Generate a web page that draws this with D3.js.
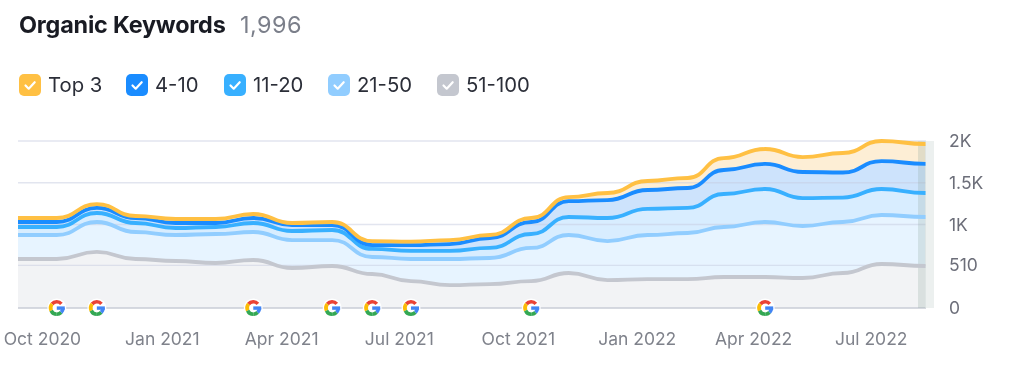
<!DOCTYPE html>
<html><head><meta charset="utf-8">
<script src="https://cdnjs.cloudflare.com/ajax/libs/d3/7.8.5/d3.min.js"></script>
<style>html,body{margin:0;padding:0;background:#fff}svg{display:block;font-family:Inter,"Noto Sans",sans-serif;filter:blur(.4px)}</style>
</head><body><svg id="c" width="1024" height="368"></svg>
<script>
const title = "Organic Keywords";
const total = "1,996";
const dates = ["2020-09-09","2020-10-09","2020-11-09","2020-12-09","2021-01-09","2021-02-09","2021-03-10","2021-04-09","2021-05-10","2021-06-10","2021-07-10","2021-08-09","2021-09-09","2021-10-11","2021-11-09","2021-12-09","2022-01-09","2022-02-09","2022-03-09","2022-04-10","2022-05-09","2022-06-09","2022-07-09","2022-08-12"];
const top3   = [1078,1078,1245,1102,1066,1066,1126,1018,1030,802,796,814,874,1078,1329,1377,1521,1557,1796,1904,1808,1856,2000,1964];
const pos4   = [1030,1030,1198,1078,1018,1018,1078,994,994,754,754,766,838,1030,1281,1293,1413,1437,1653,1725,1629,1623,1760,1725];
const pos11  = [970,970,1138,1018,958,970,1018,922,934,707,683,683,719,886,1090,1078,1186,1198,1365,1425,1317,1323,1425,1377];
const pos21  = [874,874,1030,910,874,886,910,814,814,611,587,587,599,719,874,802,874,898,970,1030,982,1030,1114,1090];
const pos51  = [587,587,671,587,563,539,575,479,503,407,323,275,287,323,419,335,347,347,371,371,359,419,527,503];
const seriesNames = ["Top 3","4-10","11-20","21-50","51-100"];
const seriesColors = ["#ffc043","#1a8cff","#38b0ff","#91cdff","#c4c7cf"];
const bandColors = ["#fdeed5","#cde3fc","#d8edff","#e7f4ff","#f2f3f5"];
const yTicks = [0,510,1000,1500,2000];
const yTickLabels = ["0","510","1K","1.5K","2K"];
const xTicks = ["2020-10-01","2021-01-01","2021-04-01","2021-07-01","2021-10-01","2022-01-01","2022-04-01","2022-07-01"];
const xTickLabels = ["Oct 2020","Jan 2021","Apr 2021","Jul 2021","Oct 2021","Jan 2022","Apr 2022","Jul 2022"];
const googleUpdates = ["2020-10-09","2020-11-09","2021-03-10","2021-05-10","2021-06-10","2021-07-10","2021-10-11","2022-04-10"];

const P = d3.utcParse("%Y-%m-%d");
const svg = d3.select("#c");
const x = d3.scaleUtc().domain([P(dates[0]),P(dates[dates.length-1])]).range([18,925.5]);
const y = d3.scaleLinear().domain([0,2000]).range([308,141]);
const D = dates.map(P);
const series = [top3,pos4,pos11,pos21,pos51];

svg.append("text").attr("x",19).attr("y",33).attr("font-size",23.4).attr("font-weight",700).attr("fill","#191b23").attr("letter-spacing",-0.2).text(title);
svg.append("text").attr("x",240).attr("y",33).attr("font-size",23.4).attr("letter-spacing",.5).attr("fill","#7b7f8a").text(total);

const legendBoxX=[19,126,224,328,437];
seriesNames.forEach((n,i)=>{
  const g=svg.append("g").attr("transform",`translate(${legendBoxX[i]},74)`);
  g.append("rect").attr("width",22).attr("height",22).attr("rx",5).attr("fill",seriesColors[i]);
  g.append("path").attr("d","M6.5 11.5l3.2 3.2 6-6.5").attr("fill","none").attr("stroke","#fff").attr("stroke-width",2.2).attr("stroke-linecap","round").attr("stroke-linejoin","round");
  svg.append("text").attr("x",legendBoxX[i]+29).attr("y",92).attr("font-size",20.3).attr("fill","#2b2e38").text(n);
});

const curve=d3.curveBumpX;
series.forEach((s,i)=>{
  const lower = series[i+1];
  const area=d3.area().x((d,j)=>x(D[j])).y1(d=>y(d)).y0((d,j)=>y(lower?lower[j]:0)).curve(curve);
  svg.append("path").datum(s).attr("d",area).attr("fill",bandColors[i]);
});

yTicks.forEach(t=>{
  svg.append("line").attr("x1",18).attr("x2",926).attr("y1",y(t)).attr("y2",y(t)).attr("stroke",t===0?"#c9ccd6":"#c5cbe0").attr("stroke-opacity",t===0?1:.5).attr("stroke-width",t===0?1.5:1.4);
});

svg.append("rect").attr("x",918).attr("y",141).attr("width",8).attr("height",167).attr("fill","#8fa6a0").attr("opacity",.25);
svg.append("rect").attr("x",925).attr("y",141).attr("width",9).attr("height",167).attr("fill","#dfe6e4").attr("opacity",.6);

const line=d3.line().x((d,j)=>x(D[j])).y(d=>y(d)).curve(curve);
[4,3,2,1,0].forEach(i=>{
  svg.append("path").datum(series[i]).attr("d",line).attr("fill","none").attr("stroke",seriesColors[i]).attr("stroke-width",3.8);
});

yTicks.forEach((t,i)=>{
  svg.append("text").attr("x",949).attr("y",y(t)+6).attr("font-size",17.5).attr("fill","#6c6e79").text(yTickLabels[i]);
});
xTicks.forEach((t,i)=>{
  const nudge = i===0?-4:(i===1?-3:0);
  svg.append("text").attr("x",x(P(t))+nudge).attr("y",345).attr("text-anchor","middle").attr("font-size",17.5).attr("fill","#7f828b").text(xTickLabels[i]);
});

function gIcon(cx,cy){
  const g=svg.append("g").attr("transform",`translate(${cx},${cy})`);
  g.append("circle").attr("r",9.5).attr("fill","#fff");
  const arc=d3.arc().innerRadius(4.4).outerRadius(8);
  const deg=Math.PI/180;
  g.append("path").attr("d",arc({startAngle:-50*deg,endAngle:48*deg})).attr("fill","#ea4335");
  g.append("path").attr("d",arc({startAngle:-115*deg,endAngle:-50*deg})).attr("fill","#fbbc05");
  g.append("path").attr("d",arc({startAngle:-180*deg,endAngle:-115*deg})).attr("fill","#34a853");
  g.append("path").attr("d",arc({startAngle:135*deg,endAngle:180*deg})).attr("fill","#34a853");
  g.append("path").attr("d",arc({startAngle:90*deg,endAngle:135*deg})).attr("fill","#4285f4");
  g.append("rect").attr("x",0).attr("y",-1.6).attr("width",8).attr("height",3.4).attr("fill","#4285f4");
}
googleUpdates.forEach(d=>gIcon(x(P(d)),308));
</script></body></html>
